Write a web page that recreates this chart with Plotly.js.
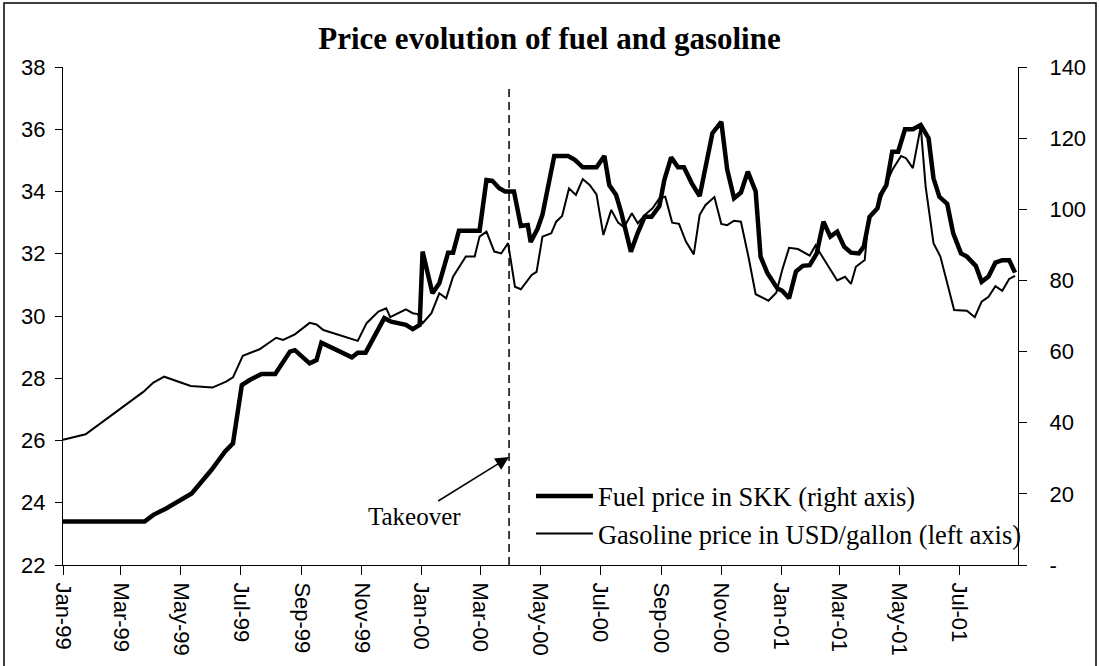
<!DOCTYPE html>
<html>
<head>
<meta charset="utf-8">
<script src="https://cdn.plot.ly/plotly-3.0.1.min.js"></script>
<style>html,body{margin:0;padding:0;background:#fff;}#chart{width:1099px;height:666px;}</style>
</head>
<body>
<div id="chart"></div>
<script>
const fuelDates = ['1999-01-01','1999-01-25','1999-03-25','1999-04-03','1999-04-16','1999-05-12','1999-06-01','1999-06-15','1999-06-23','1999-07-02',
'1999-07-10','1999-07-22','1999-08-05','1999-08-20','1999-08-25','1999-09-09','1999-09-16','1999-09-21','1999-10-22','1999-10-28',
'1999-11-05','1999-11-24','1999-12-01','1999-12-16','1999-12-23','1999-12-30','2000-01-02','2000-01-12','2000-01-19','2000-01-28',
'2000-02-02','2000-02-08','2000-02-29','2000-03-07','2000-03-13','2000-03-20','2000-03-26','2000-04-04','2000-04-11','2000-04-18',
'2000-04-21','2000-04-28','2000-05-03','2000-05-15','2000-05-29','2000-06-05','2000-06-13','2000-06-27','2000-07-05','2000-07-10',
'2000-07-17','2000-07-22','2000-08-01','2000-08-08','2000-08-15','2000-08-22','2000-08-30','2000-09-04','2000-09-11','2000-09-18',
'2000-09-24','2000-10-02','2000-10-10','2000-10-23','2000-11-01','2000-11-07','2000-11-14','2000-11-21','2000-11-28','2000-12-06',
'2000-12-11','2000-12-18','2000-12-28','2001-01-02','2001-01-09','2001-01-16','2001-01-23','2001-01-30','2001-02-06','2001-02-13','2001-02-20',
'2001-02-27','2001-03-06','2001-03-13','2001-03-21','2001-03-26','2001-04-01','2001-04-09','2001-04-12','2001-04-18','2001-04-24',
'2001-04-30','2001-05-07','2001-05-15','2001-05-23','2001-05-31','2001-06-05','2001-06-11','2001-06-19','2001-06-25','2001-07-03',
'2001-07-09','2001-07-18','2001-07-24','2001-07-31','2001-08-07','2001-08-14','2001-08-21','2001-08-27'];
const fuelSKK = [12.2,12.2,12.2,14.1,15.9,20.1,26.7,31.9,34.2,50.6,
52.0,53.7,53.7,60.0,60.4,56.7,57.6,62.5,58.4,59.7,
59.7,69.4,68.4,67.5,66.3,67.5,88.1,76.4,79.2,87.8,
87.8,94.0,94.0,108.2,108.0,105.9,105.0,105.0,95.3,95.6,
90.8,94.5,98.5,115.0,115.0,113.9,111.8,111.8,115.0,106.8,
104.0,99.3,88.1,93.4,97.9,97.9,100.9,108.2,114.6,111.8,
111.8,107.3,103.7,121.4,124.6,111.2,103.1,104.7,110.6,105.0,
86.7,82.0,77.8,77.1,75.0,82.5,84.1,84.3,87.5,96.5,92.3,
93.7,89.5,87.8,87.6,89.5,97.9,100.3,104.0,106.8,116.2,
116.2,122.5,122.5,123.7,120.0,108.7,103.5,101.5,93.3,87.6,
86.7,84.1,79.6,81.1,85.0,85.7,85.7,82.2];

const gasDates = ['1999-01-01','1999-01-24','1999-03-24','1999-04-03','1999-04-14','1999-05-11','1999-06-02','1999-06-16','1999-06-23','1999-07-03',
'1999-07-20','1999-08-06','1999-08-13','1999-08-25','1999-09-09','1999-09-16','1999-09-23','1999-10-28','1999-11-06','1999-11-18',
'1999-11-26','1999-11-30','1999-12-16','1999-12-23','1999-12-28','2000-01-02','2000-01-11','2000-01-19','2000-01-26','2000-02-02',
'2000-02-15','2000-02-24','2000-02-29','2000-03-07','2000-03-15','2000-03-22','2000-03-29','2000-04-05','2000-04-11','2000-04-22',
'2000-04-27','2000-05-03','2000-05-12','2000-05-17','2000-05-23','2000-05-30','2000-06-06','2000-06-13','2000-06-20','2000-06-27',
'2000-07-04','2000-07-12','2000-07-19','2000-07-25','2000-08-02','2000-08-08','2000-08-16','2000-08-23','2000-08-30','2000-09-05',
'2000-09-12','2000-09-19','2000-09-26','2000-10-04','2000-10-10','2000-10-16','2000-10-25','2000-11-01','2000-11-07','2000-11-14',
'2000-11-21','2000-11-29','2000-12-06','2000-12-19','2000-12-27','2001-01-02','2001-01-09','2001-01-18','2001-01-30','2001-02-05',
'2001-02-10','2001-02-19','2001-02-27','2001-03-07','2001-03-13','2001-03-18','2001-03-27','2001-03-31','2001-04-09','2001-04-16',
'2001-04-24','2001-05-03','2001-05-08','2001-05-15','2001-05-23','2001-05-28','2001-06-05','2001-06-12','2001-06-26','2001-07-09',
'2001-07-17','2001-07-24','2001-07-31','2001-08-07','2001-08-14','2001-08-21','2001-08-27'];
const gasUSD = [26.02,26.20,27.57,27.86,28.05,27.75,27.70,27.89,28.03,28.72,
28.93,29.30,29.23,29.41,29.78,29.73,29.55,29.20,29.77,30.14,
30.25,29.96,30.21,30.09,30.06,29.77,30.09,30.73,30.57,31.26,
31.91,31.91,32.55,32.71,32.07,32.01,32.34,30.94,30.86,31.32,
31.42,32.55,32.66,33.03,33.21,34.10,33.89,34.40,34.21,33.91,
32.60,33.41,33.00,32.85,33.30,32.98,33.27,33.46,33.78,33.83,
33.00,32.96,32.39,31.98,33.25,33.57,33.82,32.96,32.92,33.06,
33.03,31.85,30.70,30.49,30.75,31.48,32.19,32.15,31.94,32.27,
32.00,31.56,31.14,31.26,31.03,31.58,31.80,33.19,33.46,34.10,
34.69,35.14,35.07,34.75,36.09,34.16,32.34,31.91,30.19,30.17,
29.96,30.46,30.62,30.96,30.81,31.19,31.29];

const leftTicks = [22,24,26,28,30,32,34,36,38];
const rightTicks = [0,20,40,60,80,100,120,140];
const rightTickText = ['-','20','40','60','80','100','120','140'];
const takeoverDate = '2000-03-30';
const takeoverTop = 37.33;
const takeoverArrowY = 25.47;

const SANS = 'Liberation Sans, Arial, sans-serif';
const SERIF = 'Liberation Serif, Times New Roman, serif';

const traces = [
  {x: fuelDates, y: fuelSKK, type: 'scatter', mode: 'lines', yaxis: 'y2',
   name: 'Fuel price in SKK (right axis)', line: {color: '#000', width: 4.5}},
  {x: gasDates, y: gasUSD, type: 'scatter', mode: 'lines', yaxis: 'y',
   name: 'Gasoline price in USD/gallon (left axis)', line: {color: '#000', width: 2}}
];

const layout = {
  width: 1099, height: 666,
  margin: {l: 63, r: 81, t: 67, b: 101, pad: 0},
  paper_bgcolor: '#fff', plot_bgcolor: '#fff',
  showlegend: true,
  font: {family: SANS, color: '#000'},
  title: {text: '<b>Price evolution of fuel and gasoline</b>',
          font: {family: SERIF, size: 31, color: '#000'},
          x: 0.5, xanchor: 'center', y: 1 - 38/666, yanchor: 'middle', yref: 'container'},
  xaxis: {type: 'date', range: ['1999-01-01', '2001-08-30'],
          tick0: '1999-01-01', dtick: 'M2', tickformat: '%b-%y',
          tickangle: 90, ticks: 'outside', ticklen: 9, tickcolor: '#000', tickwidth: 1,
          showline: true, linecolor: '#000', linewidth: 1, showgrid: false, zeroline: false,
          tickfont: {family: SANS, size: 22, color: '#000'}, ticklabelstandoff: 3},
  yaxis: {range: [22, 38], tickvals: leftTicks, ticks: 'outside', ticklen: 7,
          tickcolor: '#000', showline: true, linecolor: '#000', linewidth: 1,
          showgrid: false, zeroline: false, ticklabelstandoff: 5,
          tickfont: {family: SANS, size: 22, color: '#000'}},
  yaxis2: {range: [0, 140], tickvals: rightTicks, ticktext: rightTickText,
           overlaying: 'y', side: 'right', anchor: 'x', ticks: 'outside', ticklen: 8,
           tickcolor: '#000', showline: true, linecolor: '#000', linewidth: 1,
           showgrid: false, zeroline: false, ticklabelstandoff: 18,
           tickfont: {family: SANS, size: 22, color: '#000'}},
  yaxis3: {range: [0, 140], tickvals: rightTicks, overlaying: 'y', side: 'right', anchor: 'x',
           ticks: 'inside', ticklen: 8, tickcolor: '#000', showticklabels: false,
           showline: false, showgrid: false, zeroline: false},
  legend: {x: 0.49, xanchor: 'left', y: 0.186, yanchor: 'top', bgcolor: 'rgba(0,0,0,0)',
           borderwidth: 0, font: {family: SERIF, size: 26.5, color: '#000'},
           itemwidth: 57, tracegroupgap: 0},
  shapes: [
    {type: 'line', xref: 'x', yref: 'y', x0: takeoverDate, x1: takeoverDate, y0: 22, y1: takeoverTop,
     line: {color: '#000', width: 1.5, dash: '8px,5px'}},
    {type: 'rect', xref: 'paper', yref: 'paper', x0: (4-63)/955, x1: (1096-63)/955,
     y0: (565-700)/498, y1: (565-3)/498, line: {color: '#000', width: 1.5}, fillcolor: 'rgba(0,0,0,0)', layer: 'below'}
  ],
  annotations: [
    {x: takeoverDate, y: takeoverArrowY, xref: 'x', yref: 'y', text: 'Takeover',
     showarrow: true, arrowhead: 2, arrowsize: 1.8, arrowwidth: 1.5, arrowcolor: '#000',
     ax: -95, ay: 59, font: {family: SERIF, size: 25, color: '#000'}}
  ]
};

Plotly.newPlot('chart', traces, layout, {displayModeBar: false, staticPlot: true});
</script>
</body>
</html>
